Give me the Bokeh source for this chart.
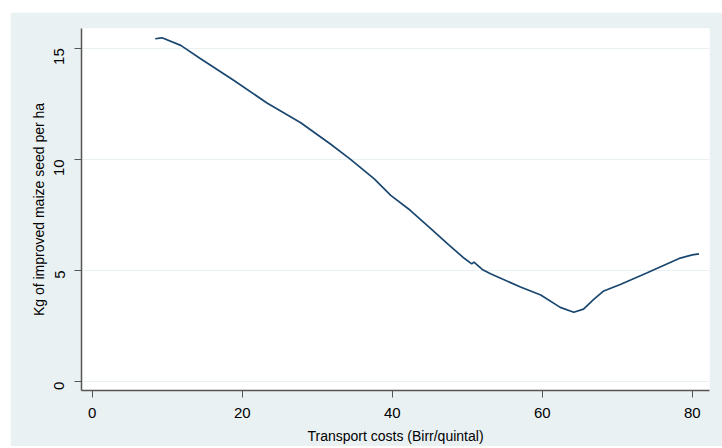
import math
from bokeh.plotting import figure
from bokeh.models import Range1d, FixedTicker, Spacer
from bokeh.layouts import column, row
from bokeh.embed import file_html
from bokeh.resources import INLINE

# Data (lowess-like curve)
transport_cost = [8.4, 9.3, 11.8, 14.4, 18.8, 23.3, 27.8, 31.8, 34.4, 37.6, 39.8,
                  42.4, 45.1, 47.5, 49.6, 50.6, 50.9, 52.0, 53.1, 57.1, 59.8,
                  62.4, 64.2, 65.5, 66.9, 68.2, 70.4, 74.0, 78.4, 80.0, 80.9]
seed_kg = [15.43, 15.47, 15.13, 14.54, 13.57, 12.54, 11.65, 10.68, 10.01, 9.12, 8.38,
           7.71, 6.90, 6.16, 5.55, 5.30, 5.38, 5.05, 4.85, 4.26, 3.90,
           3.34, 3.12, 3.26, 3.71, 4.08, 4.37, 4.90, 5.56, 5.70, 5.75]

x_ticks = [0, 20, 40, 60, 80]
y_ticks = [0, 5, 10, 15]

BG = "#eaf1f3"
LINE = "#1a476f"
AXIS = "#555555"
FONT = "Liberation Sans"

p = figure(width=712, height=434, output_backend="svg", toolbar_location=None,
           x_range=Range1d(-1.43, 82.3), y_range=Range1d(-0.4, 15.89),
           min_border_left=71, min_border_right=13, min_border_top=16, min_border_bottom=52)
p.background_fill_color = "white"
p.border_fill_color = BG
p.outline_line_color = None

p.line(transport_cost, seed_kg, line_color=LINE, line_width=1.7)

p.xaxis.ticker = FixedTicker(ticks=x_ticks)
p.yaxis.ticker = FixedTicker(ticks=y_ticks)
p.xaxis.axis_label = "Transport costs (Birr/quintal)"
p.yaxis.axis_label = "Kg of improved maize seed per ha"

for ax in (p.xaxis, p.yaxis):
    ax.axis_line_color = AXIS
    ax.axis_line_width = 1.5
    ax.major_tick_line_color = AXIS
    ax.major_tick_out = 7
    ax.major_tick_in = 0
    ax.minor_tick_line_color = None
    ax.major_label_text_font = FONT
    ax.major_label_text_font_size = "15px"
    ax.major_label_text_color = "black"
    ax.axis_label_text_font = FONT
    ax.axis_label_text_font_size = "14px"
    ax.axis_label_text_font_style = "normal"
    ax.axis_label_text_color = "black"

p.yaxis.major_label_orientation = math.pi / 2
p.xaxis.major_label_standoff = 10
p.yaxis.major_label_standoff = 15
p.xaxis.axis_label_standoff = 7
p.yaxis.axis_label_standoff = 0

p.xgrid.grid_line_color = None
p.ygrid.grid_line_color = BG
p.ygrid.grid_line_width = 1

layout = column(Spacer(height=12), row(Spacer(width=10), p))
open("out.html", "w").write(file_html(layout, INLINE))
